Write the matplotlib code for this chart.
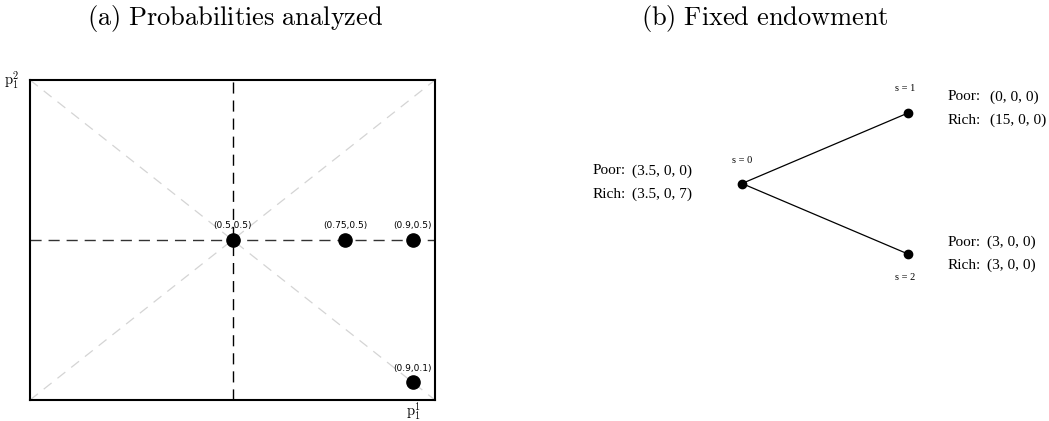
import matplotlib
matplotlib.use("Agg")
import matplotlib.pyplot as plt

plt.rcParams['mathtext.fontset'] = 'cm'

# ── Data ──────────────────────────────────────────────────────────────────
p1 = [0.5, 0.75, 0.9, 0.9]
p2 = [0.5, 0.5, 0.5, 0.1]
point_labels = ["(0.5,0.5)", "(0.75,0.5)", "(0.9,0.5)", "(0.9,0.1)"]

# tree: node positions and endowments per node
node_names = ["s = 0", "s = 1", "s = 2"]
node_x = [0.0, 1.0, 1.0]
node_y = [0.0, 1.0, -1.0]
poor_endow = ["(3.5, 0, 0)", "(0, 0, 0)", "(3, 0, 0)"]
rich_endow = ["(3.5, 0, 7)", "(15, 0, 0)", "(3, 0, 0)"]

W, H = 1049, 421
fig = plt.figure(figsize=(W / 100, H / 100), dpi=100)

# ── (a) Probabilities analyzed ────────────────────────────────────────────
ax = fig.add_axes([30 / W, 21 / H, 405 / W, 320 / H])
ax.set_xlim(0.05, 0.95)
ax.set_ylim(0.05, 0.95)
ax.set_xticks([]); ax.set_yticks([])
for sp in ax.spines.values():
    sp.set_linewidth(1.5)
    sp.set_zorder(5)
# light grey diagonals, corner to corner
ax.plot([0, 1], [0, 1], transform=ax.transAxes, color='#d4d4d4',
        lw=0.9, dashes=(8, 6))
ax.plot([0, 1], [1, 0], transform=ax.transAxes, color='#d4d4d4',
        lw=0.9, dashes=(8, 6))
ax.axvline(0.5, color='black', lw=1.0, dashes=(8, 5))
ax.axhline(0.5, color='black', lw=1.0, dashes=(8, 5), alpha=0.8)
ax.plot(p1, p2, 'o', color='black', ms=9.5, zorder=4)
for x, y, lab in zip(p1, p2, point_labels):
    ax.annotate(lab, (x, y), xytext=(0, 7), textcoords='offset points',
                ha='center', va='bottom', fontsize=6.5, family='DejaVu Sans')
ax.text(-0.045, 1.0, r'$\mathrm{p}_1^2$', transform=ax.transAxes,
        ha='center', va='center', fontsize=10.5)
ax.text(0.946, -0.035, r'$\mathrm{p}_1^1$', transform=ax.transAxes,
        ha='center', va='center', fontsize=10.5)
fig.text(235 / W, 1 - 19 / H, r'$\mathrm{(a)\ Probabilities\ analyzed}$',
         ha='center', va='center', fontsize=19)

# ── (b) Fixed endowment ───────────────────────────────────────────────────
bx = fig.add_axes([742 / W, (H - 254) / H, 166 / W, 141 / H])
bx.set_xlim(0, 1)
bx.set_ylim(-1, 1)
bx.axis('off')
for i in (1, 2):
    bx.plot([node_x[0], node_x[i]], [node_y[0], node_y[i]],
            color='black', lw=0.9, clip_on=False)
bx.plot(node_x, node_y, 'o', color='black', ms=6, clip_on=False, zorder=3)

serif = 'Liberation Serif'
# node labels
bx.text(node_x[0], 0.33, node_names[0], ha='center', va='center',
        fontsize=7.5, family=serif)
bx.text(node_x[1] - 0.02, 1.35, node_names[1], ha='center', va='center',
        fontsize=7.5, family=serif)
bx.text(node_x[2] - 0.02, -1.34, node_names[2], ha='center', va='center',
        fontsize=7.5, family=serif)

# endowment text: label column + aligned tuple column
text_pos = [(-0.9, 0.235, 0.18, -0.15),
            (1.24, 0.255, 1.23, 0.90),
            (1.24, 0.235, -0.83, -1.16)]
for (tx, dx, ty_p, ty_r), pe, re in zip(text_pos, poor_endow, rich_endow):
    bx.text(tx, ty_p, 'Poor:', ha='left', va='center', fontsize=11, family=serif)
    bx.text(tx, ty_r, 'Rich:', ha='left', va='center', fontsize=11, family=serif)
    bx.text(tx + dx, ty_p, pe, ha='left', va='center', fontsize=11, family=serif)
    bx.text(tx + dx, ty_r, re, ha='left', va='center', fontsize=11, family=serif)

fig.text(765 / W, 1 - 19 / H, r'$\mathrm{(b)\ Fixed\ endowment}$',
         ha='center', va='center', fontsize=19)

fig.savefig('out.png', dpi=100)
